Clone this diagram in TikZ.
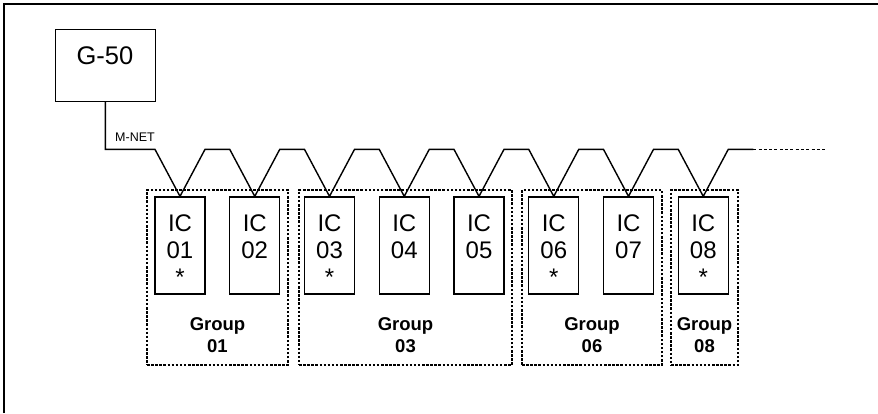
\documentclass[tikz,border=0pt]{standalone}
\usepackage{fontspec}
\setmainfont{Liberation Sans}
\usetikzlibrary{calc}
\begin{document}
\begin{tikzpicture}[x=1pt,y=-1pt,
  frameline/.style={line width=1.7pt},
  wire/.style={line width=1.4pt, line join=miter},
  gbox/.style={draw, line width=1.3pt, inner sep=0pt, minimum width=100pt, minimum height=72pt},
  icbox/.style={draw, line width=1.3pt, inner sep=0pt, minimum width=50pt, minimum height=97pt,
    align=center, font=\fontsize{24}{27}\selectfont, text height=79pt, text depth=0pt},
  grpbox/.style={draw, line width=1.3pt, dash pattern=on 2.5pt off 1.6pt, inner sep=0pt,
    minimum height=175pt, align=center, font=\fontsize{18.5}{22}\selectfont\bfseries,
    text height=150.4pt, text depth=0pt},
  lbl/.style={inner sep=0pt}
]
\useasboundingbox (0,0) rectangle (878,413);
% frame
\draw[frameline] (4.3,413) -- (4.3,4.3) -- (878,4.3);
% G-50
\node[gbox] (g50) at (105.3,65.2) {};
\node[lbl, anchor=base, font=\fontsize{25.5}{30}\selectfont] (g50txt) at (105,64.3) {G-50};
% groups
\node[grpbox, minimum width=141pt] (grp1) at (217.5,277.5) {Group\\01};
\node[grpbox, minimum width=213pt] (grp3) at (405.5,277.5) {Group\\03};
\node[grpbox, minimum width=140pt] (grp6) at (592,277.5) {Group\\06};
\node[grpbox, minimum width=67pt] (grp8) at (704.5,277.5) {Group\\08};
% ICs
\node[icbox] (ic1) at (180,245.5) {IC\\01\\*};
\node[icbox] (ic2) at (254.75,245.5) {IC\\02\\\mbox{}};
\node[icbox] (ic3) at (329.5,245.5) {IC\\03\\*};
\node[icbox] (ic4) at (404.25,245.5) {IC\\04\\\mbox{}};
\node[icbox] (ic5) at (479,245.5) {IC\\05\\\mbox{}};
\node[icbox] (ic6) at (553.75,245.5) {IC\\06\\*};
\node[icbox] (ic7) at (628.5,245.5) {IC\\07\\\mbox{}};
\node[icbox] (ic8) at (703.25,245.5) {IC\\08\\*};
% M-NET wire
\draw[wire] (g50.south) |- ($(ic1.north)+(-25,-47)$)
  -- (ic1.north) -- ++(25,-47)
  -- ($(ic2.north)+(-25,-47)$) -- (ic2.north) -- ++(25,-47)
  -- ($(ic3.north)+(-25,-47)$) -- (ic3.north) -- ++(25,-47)
  -- ($(ic4.north)+(-25,-47)$) -- (ic4.north) -- ++(25,-47)
  -- ($(ic5.north)+(-25,-47)$) -- (ic5.north) -- ++(25,-47)
  -- ($(ic6.north)+(-25,-47)$) -- (ic6.north) -- ++(25,-47)
  -- ($(ic7.north)+(-25,-47)$) -- (ic7.north) -- ++(25,-47)
  -- ($(ic8.north)+(-25,-47)$) -- (ic8.north) -- ++(25,-47)
  -- ++(25,0) coordinate (wend);
\coordinate (wfree) at ($(wend)+(74,0)$);
\draw[line width=1.3pt, dash pattern=on 3pt off 2.3pt] (wend) -- (wfree);
\node[lbl, anchor=base, font=\fontsize{12.5}{15}\selectfont] (mnet) at (135,141.7) {M-NET};
\end{tikzpicture}
\end{document}
